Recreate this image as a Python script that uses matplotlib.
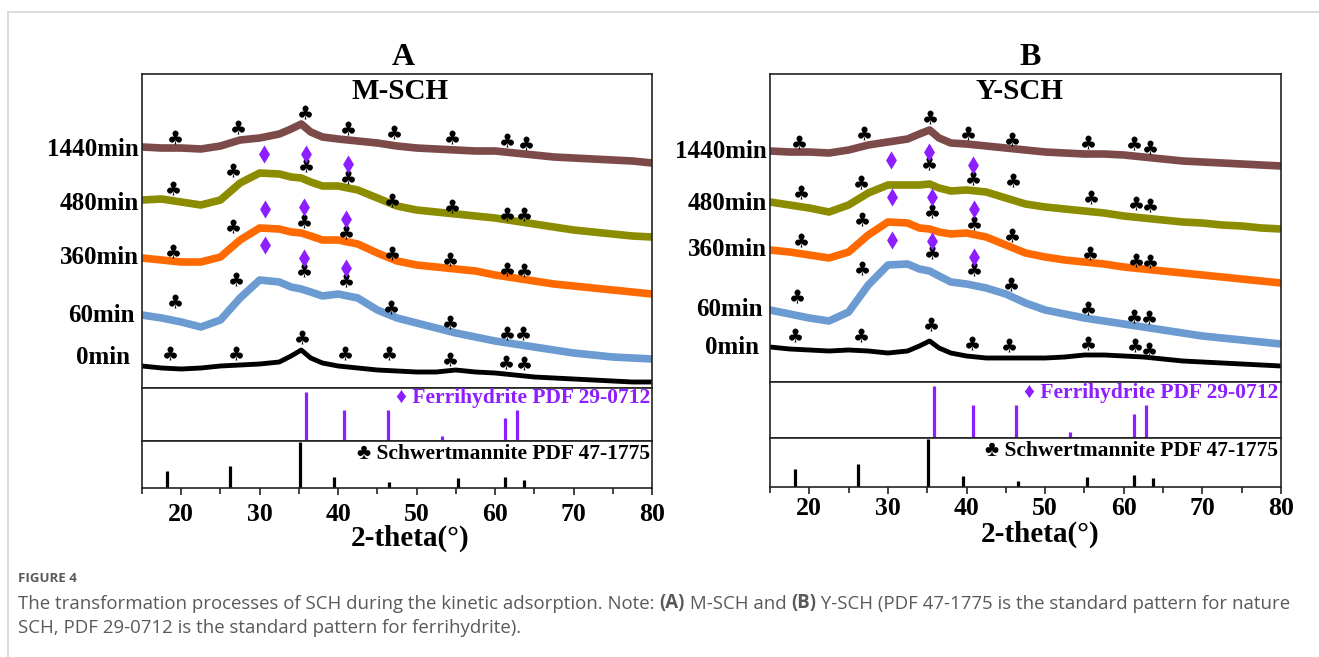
"""
XRD patterns of M-SCH and Y-SCH sampled during kinetic adsorption,
with ferrihydrite and schwertmannite reference stick patterns below.
"""

import matplotlib
matplotlib.use('Agg')
import matplotlib.pyplot as plt
from matplotlib.lines import Line2D
from matplotlib.ticker import MultipleLocator

# Times-like bold serif, DejaVu Sans picks up the card-suit glyphs
plt.rcParams['font.family'] = ['Liberation Serif', 'DejaVu Sans']
plt.rcParams['font.weight'] = 'bold'

W, H = 1319, 657

# ---- data -------------------------------------------------------------
two_theta = [15, 17.5, 20, 22.5, 25, 27.5, 30, 32.5, 34, 35.3, 36.5, 38, 40,
             42.5, 45, 47.5, 50, 52.5, 55, 57.5, 60, 62.5, 65, 67.5, 70,
             72.5, 75, 77.5, 80]

times = ['1440min', '480min', '360min', '60min', '0min']
curve_colors = ['#7d4a4a', '#8c8c00', '#ff6a00', '#6b9bd1', '#000000']

# M-SCH, stacked intensity (a.u.)
m_1440 = [241, 240, 240, 239, 242, 248, 250, 254, 259, 264, 256, 251, 249,
          247, 245, 242, 240, 239, 238, 237, 237, 235, 233, 231, 230,
          229, 228, 227, 225]
m_480 = [188, 189, 186, 183, 188, 205, 215, 214, 211, 210, 206, 202, 202,
         198, 190, 182, 178, 176, 174, 172, 170, 167, 164, 161, 158,
         156, 154, 152, 151]
m_360 = [130, 128, 126, 126, 131, 148, 160, 159, 156, 155, 152, 148, 148,
         144, 135, 127, 123, 121, 119, 117, 113, 110, 107, 104, 102,
         100, 98, 96, 94]
m_60 = [73, 70, 66, 61, 68, 90, 108, 106, 101, 99, 96, 92, 94,
        90, 78, 70, 65, 60, 55, 51, 47, 44, 41, 38, 35,
        33, 31, 30, 29]
m_0 = [22, 20, 19, 20, 22, 23, 24, 26, 32, 38, 30, 25, 22,
       20, 18, 17, 16, 16, 18, 16, 15, 13, 11, 10, 9,
       8, 7, 6, 6]

# Y-SCH, stacked intensity (a.u.)
y_1440 = [231, 230, 230, 229, 232, 237, 240, 243, 248, 252, 244, 239, 238,
          236, 234, 232, 230, 229, 228, 228, 227, 225, 223, 221, 220,
          219, 218, 217, 216]
y_480 = [180, 177, 174, 170, 177, 189, 197, 197, 197, 198, 194, 191, 192,
         190, 184, 178, 175, 173, 171, 169, 166, 164, 162, 160, 159,
         157, 156, 154, 153]
y_360 = [132, 130, 127, 124, 130, 147, 160, 159, 154, 153, 150, 148, 149,
         145, 137, 129, 125, 122, 120, 118, 115, 113, 111, 109, 107,
         105, 103, 101, 99]
y_60 = [72, 68, 64, 61, 70, 97, 117, 118, 113, 111, 106, 100, 98,
        94, 88, 79, 72, 68, 64, 61, 58, 55, 52, 49, 46,
        44, 42, 40, 38]
y_0 = [35, 33, 32, 31, 32, 31, 29, 31, 36, 41, 34, 29, 26,
       24, 24, 24, 24, 25, 27, 27, 26, 25, 23, 21, 20,
       19, 18, 17, 16]

# level of each sample label
m_label_level = [238, 185, 131, 73, 30]
y_label_level = [230, 179, 132, 72, 35]

# schwertmannite peak marks (club) per sample
m_club_x = [[19.2, 27.2, 35.8, 41.2, 47.1, 54.5, 61.5, 64.0],
            [18.9, 26.6, 35.9, 41.2, 46.9, 54.5, 61.5, 63.7],
            [19.0, 26.6, 35.7, 41.0, 46.9, 54.2, 61.5, 63.7],
            [19.2, 27.0, 35.7, 41.0, 46.7, 54.3, 61.5, 63.6],
            [18.6, 27.0, 35.4, 40.9, 46.5, 54.3, 61.4, 63.7]]
m_club_y = [[251, 261, 276, 260, 256, 251, 248, 245],
            [200, 218, 223, 211, 188, 182, 174, 174],
            [137, 162, 167, 156, 135, 129, 119, 118],
            [87, 109, 118, 108, 81, 66, 55, 55],
            [35, 35, 51, 35, 35, 29, 26, 25]]
y_club_x = [[18.7, 26.9, 35.4, 40.2, 45.8, 55.5, 61.3, 63.3],
            [18.9, 26.6, 35.2, 40.8, 45.9, 55.8, 61.6, 63.3],
            [18.9, 26.7, 35.6, 40.9, 45.8, 55.7, 61.5, 63.3],
            [18.4, 26.7, 35.6, 40.9, 45.6, 55.5, 61.3, 63.2],
            [18.2, 26.6, 35.5, 40.7, 45.4, 55.5, 61.4, 63.2]]
y_club_y = [[240, 249, 265, 249, 243, 240, 239, 235],
            [190, 200, 219, 204, 202, 185, 179, 177],
            [142, 163, 171, 159, 147, 129, 122, 121],
            [86, 114, 130, 113, 98, 74, 66, 65],
            [47, 47, 58, 39, 37, 39, 37, 33]]

# ferrihydrite peak marks (diamond), samples 480, 360 and 60 min
m_dia_x = [[30.6, 35.9, 41.2], [30.7, 35.7, 41.0], [30.7, 35.7, 41.0]]
m_dia_y = [[234, 234, 224], [179, 181, 169], [143, 130, 120]]
y_dia_x = [[30.4, 35.2, 40.8], [30.5, 35.6, 40.9], [30.5, 35.6, 40.9]]
y_dia_y = [[222, 230, 217], [185, 185, 173], [142, 141, 125]]

# reference stick patterns (relative intensity)
ferri_pos = [35.9, 40.8, 46.3, 53.2, 61.3, 62.8]
ferri_int = [0.93, 0.59, 0.59, 0.10, 0.43, 0.59]
schw_pos = [18.2, 26.2, 35.1, 39.5, 46.5, 55.3, 61.3, 63.7]
schw_int = [0.37, 0.46, 0.97, 0.23, 0.13, 0.21, 0.24, 0.18]

PURPLE = '#8c1eff'
CLUB = '$\u2663$'


def px_rect(left, top, right, bottom):
    """Figure-fraction rectangle from pixel edges."""
    return [left / W, 1 - bottom / H, (right - left) / W, (bottom - top) / H]


def bare(ax):
    ax.tick_params(bottom=False, left=False, labelbottom=False, labelleft=False)
    for s in ax.spines.values():
        s.set_linewidth(1.2)
        s.set_color('#222222')


def draw_panel(x0, x1, top, div1, div2, bottom, curves, label_level,
               label_dx, club_x, club_y, dia_x, dia_y, letter, name,
               letter_pos, name_pos, text_y, tick_pad, xlabel_pos):
    ax = fig.add_axes(px_rect(x0, top, x1, div1))
    ax_f = fig.add_axes(px_rect(x0, div1, x1, div2))
    ax_s = fig.add_axes(px_rect(x0, div2, x1, bottom))

    for a in (ax, ax_f, ax_s):
        a.set_xlim(15, 80)
        bare(a)
    ax.set_ylim(0, (div1 - top))

    for vals, c in zip(curves, curve_colors):
        lw = 3.5 if c == '#000000' else 5.5
        ax.plot(two_theta, vals, color=c, lw=lw, solid_joinstyle='round')

    for i, t in enumerate(times):
        ax.annotate(t, xy=(0, label_level[i]),
                    xycoords=('axes fraction', 'data'),
                    xytext=(-label_dx[i], 0), textcoords='offset pixels',
                    ha='right', va='center', fontsize=18, annotation_clip=False)
        ax.scatter(club_x[i], club_y[i], marker=CLUB, s=100, color='black',
                   linewidths=0, zorder=5)
    for i in range(len(dia_x)):
        ax.scatter(dia_x[i], dia_y[i], marker='d', s=85, color=PURPLE,
                   linewidths=0, zorder=5)

    ax.text(letter_pos[0], letter_pos[1], letter, transform=ax.transAxes,
            ha='center', va='center', fontsize=23)
    ax.text(name_pos[0], name_pos[1], name, transform=ax.transAxes,
            ha='center', va='center', fontsize=21)

    # reference patterns
    ax_f.vlines(ferri_pos, 0, ferri_int, color=PURPLE, lw=2.3)
    ax_f.set_ylim(0, 1)
    ax_f.text(text_y[0][0], text_y[0][1], '\u2666 Ferrihydrite PDF 29-0712',
              transform=ax_f.transAxes, ha='right', va='center',
              fontsize=15.5, color=PURPLE)
    ax_s.vlines(schw_pos, 0, schw_int, color='black', lw=2.3)
    ax_s.set_ylim(0, 1)
    ax_s.text(text_y[1][0], text_y[1][1], '\u2663 Schwertmannite PDF 47-1775',
              transform=ax_s.transAxes, ha='right', va='center',
              fontsize=15.5, color='black')

    ax_s.set_xticks(range(20, 81, 10))
    ax_s.xaxis.set_minor_locator(MultipleLocator(5))
    ax_s.tick_params(axis='x', which='both', bottom=True, labelbottom=True,
                     direction='out', width=1.2, color='#222222')
    ax_s.tick_params(axis='x', which='major', length=5, labelsize=18.5,
                     pad=tick_pad)
    ax_s.tick_params(axis='x', which='minor', length=4)
    ax_s.set_xlabel('2-theta(\u00b0)', fontsize=21, fontweight='bold')
    ax_s.xaxis.set_label_coords(*xlabel_pos)
    ax_s.xaxis.label.set_va('center')
    return ax, ax_f, ax_s


fig = plt.figure(figsize=(W / 100, H / 100), dpi=100, facecolor='white')

draw_panel(142, 652, 74, 388, 441, 488,
           [m_1440, m_480, m_360, m_60, m_0], m_label_level,
           [3, 3, 3, 7, 12], m_club_x, m_club_y, m_dia_x, m_dia_y,
           'A', 'M-SCH', (0.512, 1.054), (0.506, 0.943),
           ((0.997, 0.81), (0.997, 0.72)), 6, (0.525, -1.08))

draw_panel(770, 1281, 74, 382, 438, 487,
           [y_1440, y_480, y_360, y_60, y_0], y_label_level,
           [3, 3, 3, 7, 11], y_club_x, y_club_y, y_dia_x, y_dia_y,
           'B', 'Y-SCH', (0.509, 1.055), (0.489, 0.942),
           ((0.994, 0.80), (0.994, 0.73)), 2.5, (0.528, -0.96))

# card outline
fig.add_artist(Line2D([8 / W, 1], [1 - 12 / H] * 2, color='#d9d9d9', lw=1.3))
fig.add_artist(Line2D([8 / W] * 2, [0, 1 - 12 / H], color='#d9d9d9', lw=1.3))

# caption
cap = fig.add_axes([0, 0, 1, 1], zorder=-1)
cap.axis('off')
cap_style = dict(family='Open Sans', fontsize=13.4, color='#595959')
cap.text(18 / W, 1 - 578 / H, 'FIGURE 4', family='Open Sans', fontsize=9.5,
         color='#5a5a5a', fontweight='bold', va='center')
t = cap.text(18 / W, 1 - 604 / H,
             'The transformation processes of SCH during the kinetic '
             'adsorption. Note: ', fontweight='normal', va='center', **cap_style)
for piece, wt in [('(A)', 'bold'), (' M-SCH and ', 'normal'), ('(B)', 'bold'),
                  (' Y-SCH (PDF 47-1775 is the standard pattern for nature',
                   'normal')]:
    t = cap.annotate(piece, xy=(1, 0), xycoords=t, va='bottom', ha='left',
                     fontweight=wt, **cap_style)
cap.text(18 / W, 1 - 628 / H,
         'SCH, PDF 29-0712 is the standard pattern for ferrihydrite).',
         fontweight='normal', va='center', **cap_style)

fig.savefig('out.png', dpi=100, facecolor='white')
